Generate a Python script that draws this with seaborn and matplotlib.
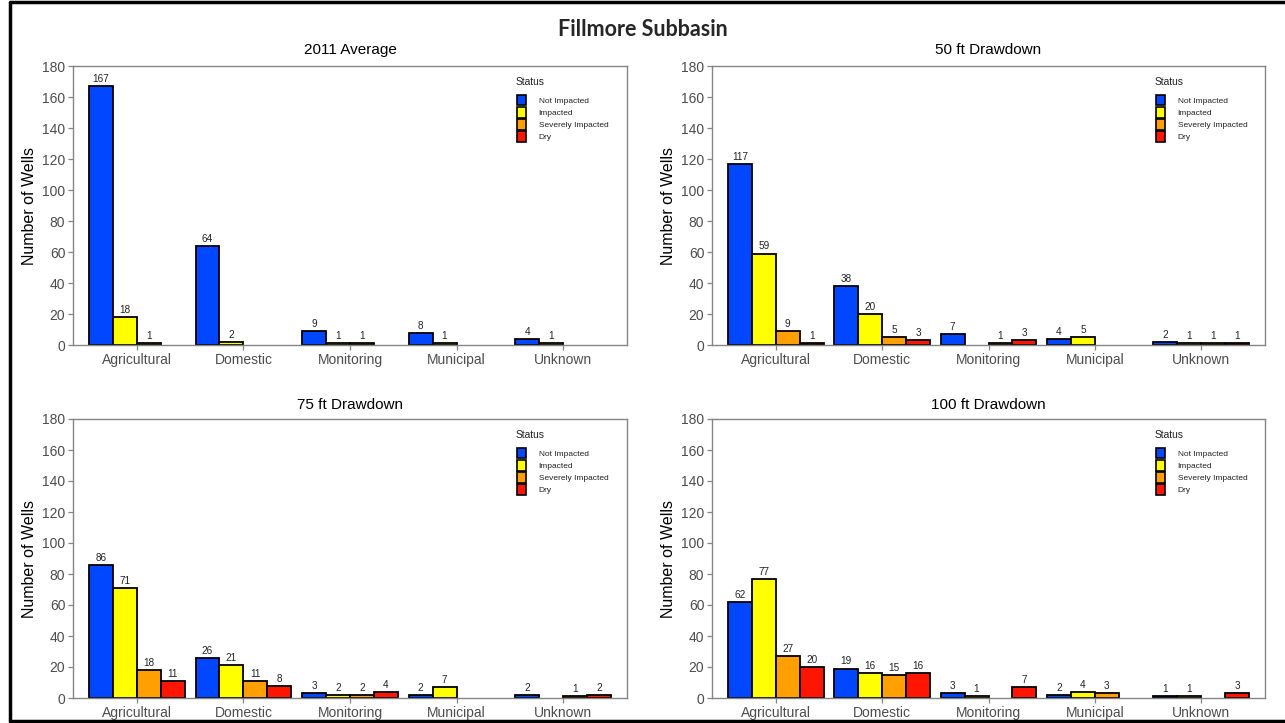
import matplotlib
matplotlib.use("Agg")
import matplotlib.pyplot as plt
from matplotlib.patches import Patch
from matplotlib.lines import Line2D
import numpy as np
import pandas as pd
import seaborn as sns

# --- data -----------------------------------------------------------------
categories = ["Agricultural", "Domestic", "Monitoring", "Municipal", "Unknown"]
statuses = ["Not Impacted", "Impacted", "Severely Impacted", "Dry"]
scenarios = ["2011 Average", "50 ft Drawdown", "75 ft Drawdown", "100 ft Drawdown"]

# well counts by category (0 = no wells in that status)
avg2011_not = [167, 64, 9, 8, 4]
avg2011_imp = [18, 2, 1, 1, 1]
avg2011_sev = [1, 0, 1, 0, 0]
avg2011_dry = [0, 0, 0, 0, 0]

dd50_not = [117, 38, 7, 4, 2]
dd50_imp = [59, 20, 0, 5, 1]
dd50_sev = [9, 5, 1, 0, 1]
dd50_dry = [1, 3, 3, 0, 1]

dd75_not = [86, 26, 3, 2, 2]
dd75_imp = [71, 21, 2, 7, 0]
dd75_sev = [18, 11, 2, 0, 1]
dd75_dry = [11, 8, 4, 0, 2]

dd100_not = [62, 19, 3, 2, 1]
dd100_imp = [77, 16, 1, 4, 1]
dd100_sev = [27, 15, 0, 3, 0]
dd100_dry = [20, 16, 7, 0, 3]

yticks = [0, 20, 40, 60, 80, 100, 120, 140, 160, 180]

scenario_series = {
    "2011 Average": [avg2011_not, avg2011_imp, avg2011_sev, avg2011_dry],
    "50 ft Drawdown": [dd50_not, dd50_imp, dd50_sev, dd50_dry],
    "75 ft Drawdown": [dd75_not, dd75_imp, dd75_sev, dd75_dry],
    "100 ft Drawdown": [dd100_not, dd100_imp, dd100_sev, dd100_dry],
}

rows = []
for scen, series in scenario_series.items():
    for status, vals in zip(statuses, series):
        for cat, v in zip(categories, vals):
            if v > 0:
                rows.append({"Scenario": scen, "Category": cat, "Status": status, "Wells": v})
df = pd.DataFrame(rows)

# --- style ----------------------------------------------------------------
sns.set_style("white")
plt.rcParams["font.family"] = ["Liberation Sans", "DejaVu Sans"]

palette = {
    "Not Impacted": "#0047FF",
    "Impacted": "#FFFF00",
    "Severely Impacted": "#FFA000",
    "Dry": "#FF1500",
}
frame_color = "#858585"
text_grey = "#4D4D4D"

fig = plt.figure(figsize=(12.85, 7.23), dpi=100)

W, H = 1285, 723
boxes = [
    (73, 66, 627, 345),
    (712, 66, 1265, 345),
    (73, 419, 627, 698),
    (712, 419, 1265, 698),
]
title_pads = [9, 9, 7, 7]

for scen, (x0, y0, x1, y1), tpad in zip(scenarios, boxes, title_pads):
    ax = fig.add_axes([x0 / W, 1 - y1 / H, (x1 - x0) / W, (y1 - y0) / H])
    sub = df[df["Scenario"] == scen]
    sns.barplot(
        data=sub, x="Category", y="Wells", hue="Status",
        order=categories, hue_order=statuses, palette=palette,
        width=0.9, errorbar=None, edgecolor="black", linewidth=1.3,
        saturation=1, dodge=True, legend=False, ax=ax,
    )
    for cont in ax.containers:
        ax.bar_label(cont, fmt="%d", padding=1.5, fontsize=7.2, color="#222222")

    ax.set_xlim(-0.6, len(categories) - 0.4)
    ax.set_ylim(0, 180)
    ax.set_yticks(yticks)
    ax.set_title(scen, fontsize=11, pad=tpad, color="black")
    ax.set_xlabel("")
    ax.set_ylabel("Number of Wells", fontsize=11.5, labelpad=4, color="black")
    ax.tick_params(axis="both", which="major", direction="out", length=3.5,
                   width=0.9, color=frame_color, labelsize=10,
                   labelcolor=text_grey, pad=2, bottom=True, left=True)
    for sp in ax.spines.values():
        sp.set_color(frame_color)
        sp.set_linewidth(1.0)

    # legend: title placed separately for a wider gap above the keys
    pw, ph = x1 - x0, y1 - y0
    ax.text((516 - 73) / pw, 1 - 16 / ph, "Status", transform=ax.transAxes,
            ha="left", va="center", fontsize=7.4, color="#222222")
    handles = [Patch(facecolor=palette[s], edgecolor="black", linewidth=1.2, label=s)
               for s in statuses]
    leg = ax.legend(handles=handles, loc="upper left",
                    bbox_to_anchor=((517 - 73) / pw, 1 - 29 / ph), frameon=False,
                    fontsize=6, handlelength=1.1,
                    handleheight=1.55, handletextpad=1.5, labelspacing=0.2,
                    borderpad=0, borderaxespad=0)
    for t in leg.get_texts():
        t.set_color("#222222")

fig.text(0.5, 1 - 30 / H, "Fillmore Subbasin", ha="center", va="center",
         fontsize=15.5, fontweight="bold", family=["Lato", "DejaVu Sans"])

# outer frame around the page
for xs, ys in [((10 / W, 1.0), (1 - 2 / H, 1 - 2 / H)),
               ((10 / W, 10 / W), (1 - 2 / H, 1 - 721 / H)),
               ((10 / W, 1.0), (1 - 721 / H, 1 - 721 / H))]:
    fig.add_artist(Line2D(xs, ys, transform=fig.transFigure, color="black", linewidth=2.5))

fig.savefig("out.png", dpi=100, facecolor="white")
